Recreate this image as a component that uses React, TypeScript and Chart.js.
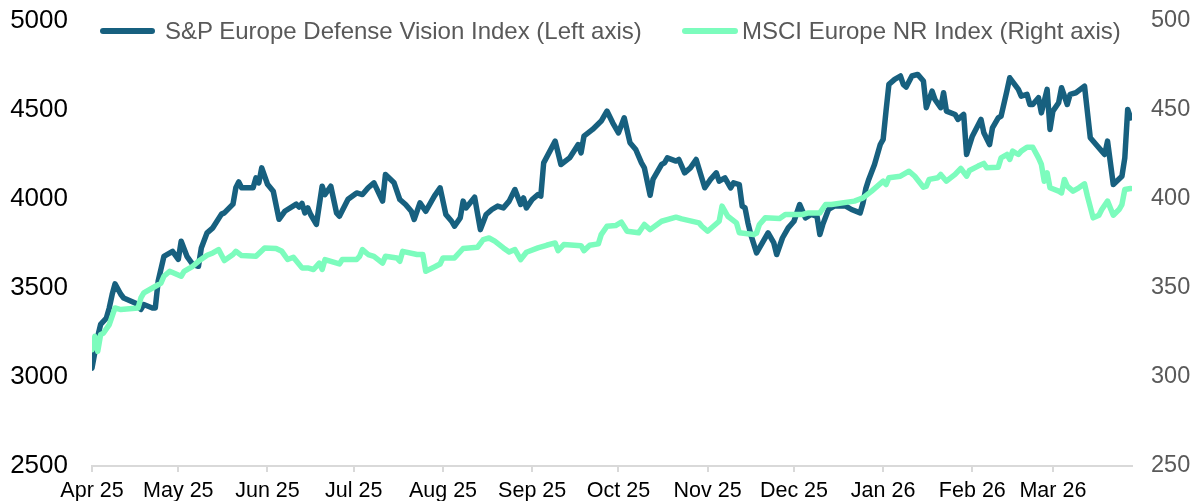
import React, { useEffect, useRef } from 'react';
import { Chart, registerables } from 'chart.js';

Chart.register(...registerables);

const FONT = '"Liberation Sans", Arial, sans-serif';
const DARK = '#17607f';
const GREEN = '#7cfcbd';

const monthLabels = ['Apr 25', 'May 25', 'Jun 25', 'Jul 25', 'Aug 25', 'Sep 25', 'Oct 25', 'Nov 25', 'Dec 25', 'Jan 26', 'Feb 26', 'Mar 26'];
// days since 2025-04-01 of each month start
const monthStartDays = [0, 30, 61, 91, 122, 153, 183, 214, 244, 275, 306, 334];

const defenseLabel = 'S&P Europe Defense Vision Index (Left axis)';
const msciLabel = 'MSCI Europe NR Index (Right axis)';

// days since 2025-04-01
const defenseDays = [
  0, 2, 3, 5, 6, 7, 8, 10, 11, 15, 17, 18, 21, 22, 23, 25, 28, 30, 31, 33, 35, 37, 38, 40, 42, 45, 46, 49, 50, 51,
  52, 56, 57, 58, 59, 61, 63, 65, 67, 71, 72, 73, 74, 75, 76, 78, 80, 81, 83, 85, 86, 89, 92, 94, 96, 98, 101, 102, 105, 107,
  109, 111, 112, 114, 116, 119, 121, 123, 125, 126, 128, 129, 130, 133, 135, 137, 139, 141, 143, 145, 147, 149, 150, 151, 153, 155, 156, 157, 161, 163,
  166, 169, 170, 171, 174, 177, 179, 181, 183, 185, 187, 189, 191, 192, 194, 195, 198, 199, 200, 203, 204, 206, 208, 210, 213, 215, 217, 218, 220, 222,
  223, 225, 226, 227, 228, 229, 231, 233, 235, 237, 238, 240, 242, 244, 246, 248, 250, 252, 253, 254, 256, 258, 262, 264, 267, 268, 269, 270, 272, 274,
  275, 276, 277, 279, 281, 282, 283, 285, 287, 289, 290, 292, 293, 295, 296, 297, 300, 301, 303, 304, 306, 309, 310, 312, 313, 315, 316, 318, 319, 322,
  323, 325, 326, 327, 329, 330, 332, 333, 334, 336, 337, 339, 340, 342, 345, 347, 349, 351, 352, 353, 355, 358, 359, 360, 361,
];
const defenseValues = [
  3050, 3228, 3296, 3331, 3388, 3463, 3523, 3465, 3444, 3416, 3380, 3407, 3388, 3388, 3538, 3678, 3706, 3661, 3763, 3678, 3633, 3622, 3725, 3810, 3838, 3915, 3922, 3971, 4063, 4096,
  4063, 4063, 4119, 4091, 4175, 4083, 4044, 3886, 3931, 3971, 3955, 3975, 3922, 3950, 3913, 3858, 4072, 4025, 4072, 3922, 3903, 3999, 4034, 4025, 4063, 4091, 3988, 4138, 4091, 3997,
  3969, 3931, 3885, 3978, 3931, 4016, 4063, 3913, 3875, 3847, 3894, 3988, 3950, 4010, 3828, 3913, 3941, 3960, 3950, 3988, 4053, 3969, 4006, 3950, 3997, 4025, 4016, 4203, 4325, 4194,
  4231, 4306, 4259, 4353, 4391, 4438, 4494, 4428, 4372, 4456, 4316, 4278, 4203, 4175, 4021, 4110, 4194, 4203, 4231, 4213, 4222, 4147, 4175, 4222, 4063, 4110, 4147, 4100, 4119, 4063,
  4091, 4081, 3960, 3950, 3866, 3800, 3697, 3753, 3810, 3753, 3688, 3781, 3838, 3875, 3969, 3894, 3913, 3903, 3800, 3856, 3941, 3960, 3960, 3941, 3922, 3978, 4060, 4110, 4194, 4306,
  4335, 4494, 4644, 4672, 4691, 4644, 4629, 4691, 4700, 4663, 4513, 4606, 4559, 4513, 4597, 4494, 4475, 4447, 4475, 4250, 4353, 4447, 4372, 4306, 4400, 4456, 4466, 4606, 4681, 4616,
  4578, 4588, 4531, 4531, 4569, 4484, 4616, 4391, 4494, 4541, 4625, 4531, 4588, 4597, 4634, 4344, 4306, 4269, 4250, 4325, 4081, 4128, 4231, 4503, 4456,
];

const msciDays = [
  0, 1, 2, 3, 4, 6, 8, 10, 13, 16, 17, 18, 21, 24, 25, 27, 31, 32, 35, 37, 40, 42, 44, 46, 49, 50, 52, 57, 60, 64,
  66, 68, 70, 73, 75, 77, 79, 80, 81, 86, 87, 92, 93, 94, 96, 98, 101, 102, 106, 107, 108, 113, 115, 116, 119, 121, 122, 126, 129, 134,
  136, 138, 140, 143, 145, 147, 149, 151, 155, 158, 161, 162, 164, 170, 171, 173, 176, 177, 179, 182, 184, 186, 190, 192, 194, 198, 203, 205, 211, 212,
  214, 218, 219, 221, 224, 225, 230, 231, 232, 234, 239, 241, 247, 249, 253, 255, 257, 265, 268, 271, 273, 275, 276, 277, 281, 284, 286, 289, 290, 291,
  294, 295, 297, 300, 302, 304, 305, 308, 310, 311, 315, 316, 318, 319, 320, 322, 323, 325, 327, 329, 330, 331, 332, 333, 336, 337, 338, 339, 341, 343,
  345, 346, 348, 350, 351, 353, 355, 357, 358, 359, 361,
];
const msciValues = [
  315.4, 322.8, 314.4, 323.8, 324.7, 329.4, 338.8, 337.9, 338.4, 338.8, 344.4, 347.2, 350.0, 352.8, 356.6, 359.4, 356.6, 359.4, 362.2, 365.0, 368.4, 369.7, 371.6, 365.4, 368.8, 370.6, 368.2, 367.8, 372.5, 372.2,
  370.6, 366.0, 367.3, 361.3, 361.3, 360.4, 364.0, 360.4, 366.0, 363.5, 366.0, 366.0, 367.8, 371.6, 368.8, 367.8, 364.0, 367.8, 366.9, 365.0, 370.6, 368.8, 368.8, 359.4, 361.8, 363.5, 366.9, 366.9, 372.2, 372.9,
  377.2, 378.1, 376.3, 372.5, 370.2, 371.6, 366.0, 370.1, 372.5, 374.0, 375.3, 371.0, 374.4, 373.8, 371.0, 374.0, 374.8, 380.0, 384.7, 385.1, 387.0, 381.9, 381.0, 385.7, 382.8, 387.5, 389.8, 388.8, 386.6, 384.7,
  381.9, 387.5, 396.0, 390.3, 386.6, 381.0, 380.0, 380.9, 385.7, 389.4, 389.0, 391.3, 391.3, 392.2, 392.2, 396.9, 396.9, 398.8, 400.6, 404.4, 407.2, 410.0, 408.1, 411.9, 412.8, 415.6, 412.8, 406.6, 407.2, 411.0,
  411.9, 413.8, 410.0, 413.8, 417.2, 412.8, 416.0, 418.5, 420.0, 417.5, 417.9, 423.1, 425.0, 422.2, 426.9, 425.0, 426.9, 429.1, 429.1, 423.1, 419.4, 410.0, 414.7, 406.3, 404.4, 403.4, 411.0, 407.2, 404.4, 406.3,
  408.5, 401.6, 389.4, 390.9, 394.1, 398.8, 390.9, 394.1, 396.9, 405.3, 405.9,
];

const leftTicks = [2500, 3000, 3500, 4000, 4500, 5000];
const rightTicks = [250, 300, 350, 400, 450, 500];

export default function App() {
  const ref = useRef<HTMLCanvasElement | null>(null);

  useEffect(() => {
    if (!ref.current) return;
    const chart = new Chart(ref.current, {
      type: 'line',
      data: {
        datasets: [
          {
            label: defenseLabel,
            data: defenseDays.map((d, i) => ({ x: d, y: defenseValues[i] })),
            yAxisID: 'yLeft',
            borderColor: DARK,
            backgroundColor: DARK,
            borderWidth: 5.5,
            pointRadius: 0,
            tension: 0,
            borderJoinStyle: 'round',
            borderCapStyle: 'round',
            order: 1,
          },
          {
            label: msciLabel,
            data: msciDays.map((d, i) => ({ x: d, y: msciValues[i] })),
            yAxisID: 'yRight',
            borderColor: GREEN,
            backgroundColor: GREEN,
            borderWidth: 5.5,
            pointRadius: 0,
            tension: 0,
            borderJoinStyle: 'round',
            borderCapStyle: 'round',
            order: 0,
          },
        ],
      },
      options: {
        responsive: false,
        animation: false,
        layout: { padding: { top: 21, left: 0, right: 0, bottom: 0 } },
        plugins: { legend: { display: false }, tooltip: { enabled: false } },
        scales: {
          x: {
            type: 'linear',
            min: 0,
            max: 361.5,
            afterBuildTicks: (s: any) => {
              s.ticks = monthStartDays.map((v) => ({ value: v }));
            },
            afterFit: (s: any) => {
              s.height = 35;
            },
            ticks: {
              autoSkip: false,
              maxRotation: 0,
              minRotation: 0,
              padding: 6,
              color: '#000000',
              font: { family: FONT, size: 21.5 },
              callback: (v: any) => {
                const i = monthStartDays.indexOf(Number(v));
                return i >= 0 ? monthLabels[i] : '';
              },
            },
            grid: { drawOnChartArea: false, drawTicks: true, tickLength: 6, color: '#d9d9d9', lineWidth: 2 },
            border: { display: true, color: '#d9d9d9', width: 2 },
          },
          yLeft: {
            position: 'left',
            min: leftTicks[0],
            max: leftTicks[leftTicks.length - 1],
            afterBuildTicks: (s: any) => {
              s.ticks = leftTicks.map((v) => ({ value: v }));
            },
            afterFit: (s: any) => {
              s.width = 92;
            },
            ticks: {
              padding: 0,
              color: '#000000',
              font: { family: FONT, size: 26 },
              callback: (v: any) => String(v),
            },
            grid: { display: false, drawTicks: true, tickLength: 24 },
            border: { display: false },
          },
          yRight: {
            position: 'right',
            min: rightTicks[0],
            max: rightTicks[rightTicks.length - 1],
            afterBuildTicks: (s: any) => {
              s.ticks = rightTicks.map((v) => ({ value: v }));
            },
            afterFit: (s: any) => {
              s.width = 66;
            },
            ticks: {
              padding: 0,
              color: '#595959',
              font: { family: FONT, size: 23.5 },
              callback: (v: any) => String(v),
            },
            grid: { display: false, drawTicks: true, tickLength: 19 },
            border: { display: false },
          },
        },
      },
    } as any);
    return () => chart.destroy();
  }, []);

  const legendText: React.CSSProperties = {
    position: 'absolute',
    top: 17,
    fontFamily: FONT,
    fontSize: 24,
    lineHeight: '28px',
    color: '#595959',
    whiteSpace: 'nowrap',
  };
  const legendLine: React.CSSProperties = {
    position: 'absolute',
    top: 28,
    height: 6,
    borderRadius: 3,
  };

  return (
    <div style={{ position: 'fixed', left: 0, top: 0, width: 1198, height: 501, background: '#ffffff', overflow: 'hidden' }}>
      <canvas ref={ref} width={1198} height={501} style={{ display: 'block', width: 1198, height: 501 }} />
      <div style={{ ...legendLine, left: 100, width: 55, background: DARK }} />
      <div style={{ ...legendText, left: 165 }}>{defenseLabel}</div>
      <div style={{ ...legendLine, left: 682, width: 56, background: GREEN }} />
      <div style={{ ...legendText, left: 742 }}>{msciLabel}</div>
    </div>
  );
}
